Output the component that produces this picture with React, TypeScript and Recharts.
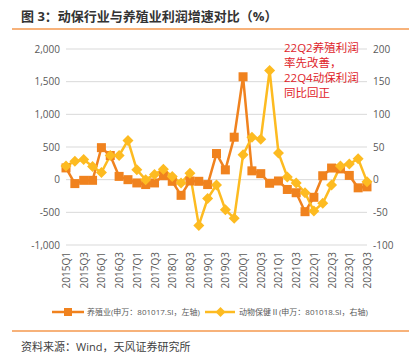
import React from "react";
import { LineChart, Line, XAxis, YAxis, CartesianGrid } from "recharts";

const quarters = [
  "2015Q1", "2015Q2", "2015Q3", "2015Q4",
  "2016Q1", "2016Q2", "2016Q3", "2016Q4",
  "2017Q1", "2017Q2", "2017Q3", "2017Q4",
  "2018Q1", "2018Q2", "2018Q3", "2018Q4",
  "2019Q1", "2019Q2", "2019Q3", "2019Q4",
  "2020Q1", "2020Q2", "2020Q3", "2020Q4",
  "2021Q1", "2021Q2", "2021Q3", "2021Q4",
  "2022Q1", "2022Q2", "2022Q3", "2022Q4",
  "2023Q1", "2023Q2", "2023Q3",
];

// 养殖业 (left axis)
const breeding = [
  180, -60, -10, -10, 490, 370, 50, 0, -50, -75, -50, 60,
  -25, -240, -20, -25, -75, 400, 150, 650, 1575, 135, 92, -55,
  -20, -150, -200, -490, -270, 60, 178, 165, 65, -125, -110,
];

// 动物保健Ⅱ (right axis)
const animalHealth = [
  21, 28, 31, 20, 11, 37, 37, 60, 15, 0, 8, 16,
  5, -5, 10, -70, -29, -8, -46, -59, 38, 65, 62, 167,
  41, 4, -5, -20, -48, -36, -8, 21, 24, 32, -3,
];

const leftTicks = [-1000, -500, 0, 500, 1000, 1500, 2000];
const rightTicks = [-100, -50, 0, 50, 100, 150, 200];

const noteLines = ["22Q2养殖利润", "率先改善，", "22Q4动保利润", "同比回正"];

const data = quarters.map((q, i) => ({
  q,
  breeding: breeding[i],
  animalHealth: animalHealth[i],
}));

const ORANGE = "#F0821E";
const YELLOW = "#FDBB21";
const TICK = "#595959";
const FONT = '"Open Sans", "Noto Sans CJK SC", sans-serif';

const SquareDot = (props: any) => {
  const { cx, cy } = props;
  if (cx == null || cy == null) return null;
  return <rect x={cx - 4.5} y={cy - 4.5} width={9} height={9} fill={ORANGE} />;
};

const DiamondDot = (props: any) => {
  const { cx, cy } = props;
  if (cx == null || cy == null) return null;
  const r = 5.5;
  return (
    <polygon
      points={`${cx},${cy - r} ${cx + r},${cy} ${cx},${cy + r} ${cx - r},${cy}`}
      fill={YELLOW}
    />
  );
};

const QuarterTick = (props: any) => {
  const { x, y, payload } = props;
  return (
    <text
      x={x}
      y={y - 1}
      transform={`rotate(-90, ${x}, ${y - 1})`}
      textAnchor="end"
      dominantBaseline="central"
      fontSize={10}
      fill={TICK}
      fontFamily={FONT}
    >
      {payload.value}
    </text>
  );
};

export default function App() {
  return (
    <div
      style={{
        position: "absolute",
        left: 0,
        top: 0,
        width: 420,
        height: 356,
        background: "#fff",
        fontFamily: FONT,
      }}
    >
      <div
        style={{
          position: "absolute",
          left: 21,
          top: 6,
          fontSize: 13,
          fontWeight: "bold",
          color: "#333",
          whiteSpace: "nowrap",
        }}
      >
        图 3：动保行业与养殖业利润增速对比（%）
      </div>
      <div
        style={{
          position: "absolute",
          left: 12,
          top: 28,
          width: 397,
          height: 1.5,
          background: "#F7B27A",
        }}
      />

      <div style={{ position: "absolute", left: 0, top: 0 }}>
        <LineChart
          width={420}
          height={290}
          data={data}
          margin={{ top: 49, right: 0, bottom: 0, left: 0 }}
        >
          <CartesianGrid
            yAxisId="left"
            vertical={false}
            stroke="#D9D9D9"
            strokeWidth={1}
          />
          <XAxis
            dataKey="q"
            interval={1}
            axisLine={false}
            tickLine={false}
            height={45}
            tick={<QuarterTick />}
          />
          <YAxis
            yAxisId="left"
            orientation="left"
            width={66}
            domain={[-1000, 2000]}
            ticks={leftTicks}
            axisLine={false}
            tickLine={false}
            tickSize={4}
            tickMargin={2}
            tickFormatter={(v: number) => v.toLocaleString("en-US")}
            tick={{ fill: TICK, fontSize: 10, fontFamily: FONT }}
          />
          <YAxis
            yAxisId="right"
            orientation="right"
            width={53}
            domain={[-100, 200]}
            ticks={rightTicks}
            axisLine={false}
            tickLine={false}
            tickSize={4}
            tickMargin={2}
            tick={{ fill: TICK, fontSize: 10, fontFamily: FONT }}
          />
          <Line
            yAxisId="left"
            dataKey="breeding"
            stroke={ORANGE}
            strokeWidth={2.5}
            dot={<SquareDot />}
            activeDot={false}
            isAnimationActive={false}
          />
          <Line
            yAxisId="right"
            dataKey="animalHealth"
            stroke={YELLOW}
            strokeWidth={2.5}
            dot={<DiamondDot />}
            activeDot={false}
            isAnimationActive={false}
          />
        </LineChart>
      </div>

      <div
        style={{
          position: "absolute",
          left: 284,
          top: 40,
          fontSize: 11.5,
          lineHeight: "15px",
          color: "#E0242B",
          whiteSpace: "nowrap",
        }}
      >
        {noteLines.map((t) => (
          <div key={t} style={{ height: 15 }}>
            {t}
          </div>
        ))}
      </div>

      <div
        style={{
          position: "absolute",
          left: 0,
          top: 305,
          width: 420,
          height: 14,
          fontSize: 8,
          color: TICK,
          whiteSpace: "nowrap",
        }}
      >
        <svg
          width={32}
          height={14}
          style={{ position: "absolute", left: 52, top: 0 }}
        >
          <line x1={0} y1={7} x2={32} y2={7} stroke={ORANGE} strokeWidth={2.5} />
          <rect x={12} y={3} width={8} height={8} fill={ORANGE} />
        </svg>
        <span style={{ position: "absolute", left: 87, top: 1 }}>
          养殖业(申万：801017.SI，左轴)
        </span>
        <svg
          width={30}
          height={14}
          style={{ position: "absolute", left: 205, top: 0 }}
        >
          <line x1={0} y1={7} x2={30} y2={7} stroke={YELLOW} strokeWidth={2.5} />
          <polygon points="15.5,2 20.5,7 15.5,12 10.5,7" fill={YELLOW} />
        </svg>
        <span style={{ position: "absolute", left: 239, top: 1 }}>
          动物保健Ⅱ(申万：801018.SI，右轴)
        </span>
      </div>

      <div
        style={{
          position: "absolute",
          left: 12,
          top: 330,
          width: 397,
          height: 1.5,
          background: "#F7B27A",
        }}
      />
      <div
        style={{
          position: "absolute",
          left: 21,
          top: 338,
          fontSize: 11,
          color: "#404040",
          whiteSpace: "nowrap",
        }}
      >
        资料来源：Wind，天风证券研究所
      </div>
    </div>
  );
}
